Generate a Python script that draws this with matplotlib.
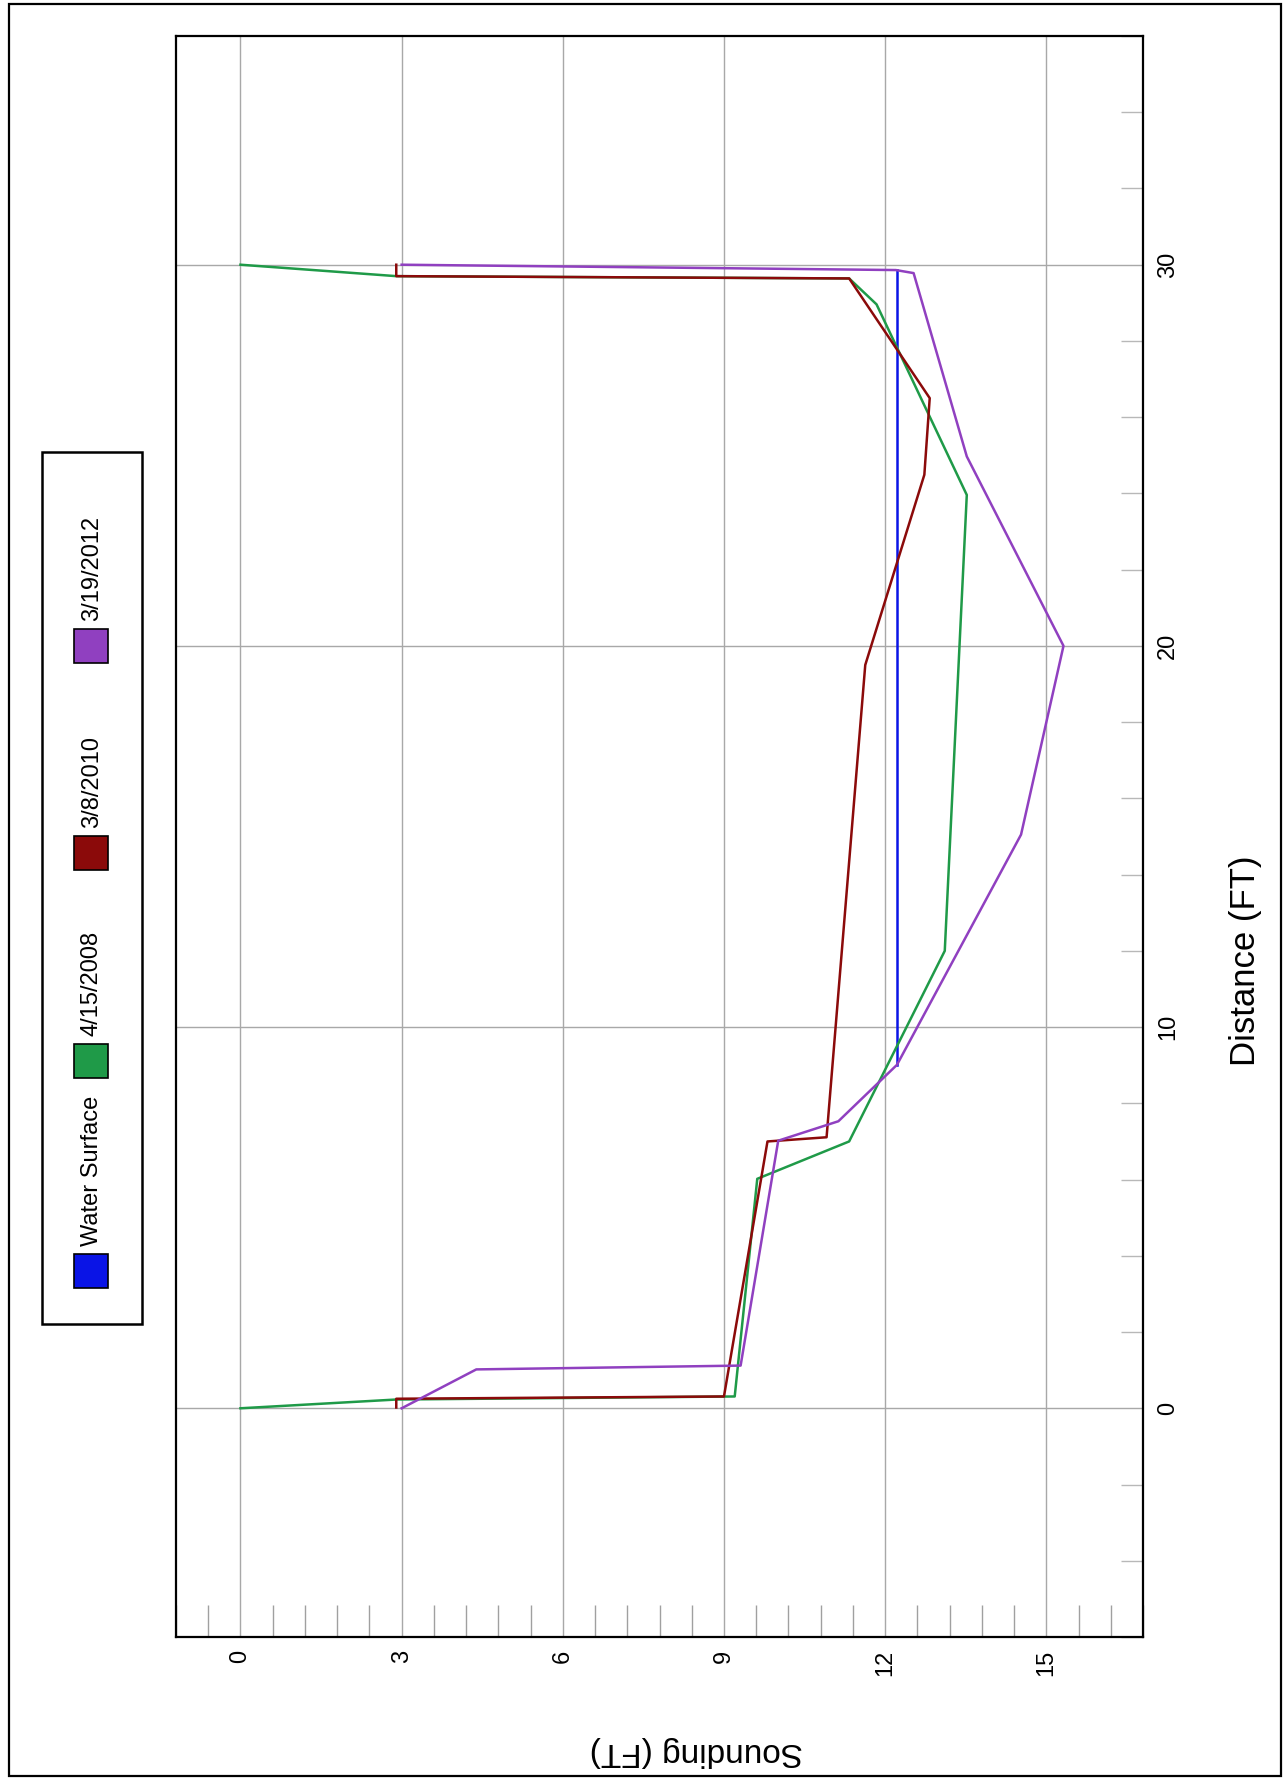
import matplotlib
matplotlib.use("Agg")
import matplotlib.pyplot as plt
from matplotlib.patches import Rectangle
from matplotlib.ticker import MultipleLocator, FixedLocator

# ---------------- data ----------------
series_names = ["Water Surface", "4/15/2008", "3/8/2010", "3/19/2012"]

ws_sounding = [12.22, 12.22]
ws_distance = [9.01, 29.87]

g2008_sounding = [0.0, 2.9, 9.2, 9.62, 11.33, 13.11, 13.52, 11.84, 11.33, 2.9, 0.0]
g2008_distance = [0.0, 0.23, 0.31, 6.02, 7.0, 12.0, 23.96, 28.96, 29.64, 29.7, 30.0]

r2010_sounding = [2.9, 2.9, 9.0, 9.81, 10.91, 11.63, 12.73, 12.83, 11.33, 2.9, 2.9]
r2010_distance = [0.02, 0.25, 0.31, 7.0, 7.11, 19.5, 24.49, 26.5, 29.64, 29.7, 30.0]

p2012_sounding = [3.0, 4.39, 9.31, 10.01, 11.13, 12.22, 14.53, 15.32, 13.52, 12.53, 12.2, 3.0]
p2012_distance = [0.0, 1.02, 1.12, 7.02, 7.53, 9.01, 15.05, 20.0, 24.97, 29.78, 29.86, 30.0]

sounding_ticks = [0, 3, 6, 9, 12, 15]
distance_ticks = [0, 10, 20, 30]

colors = ["#0a14e6", "#1f9a48", "#8b0a0a", "#9040c0"]

# ---------------- figure ----------------
W, H = 1288, 1782
fig = plt.figure(figsize=(W / 100, H / 100), dpi=100)
plt.rcParams["font.family"] = ["Liberation Sans", "DejaVu Sans"]

def fx(px):
    return px / W

def fy(py):
    return 1 - py / H

ax_l, ax_r, ax_t, ax_b = 176, 1143, 36, 1637
ax = fig.add_axes([fx(ax_l), fy(ax_b), fx(ax_r - ax_l), (ax_b - ax_t) / H])

ax.set_xlim(-1.2, 16.8)
ax.set_ylim(-6, 36)

ax.plot(ws_sounding, ws_distance, color=colors[0], lw=1.8, zorder=3)
ax.plot(g2008_sounding, g2008_distance, color=colors[1], lw=1.8, zorder=3)
ax.plot(r2010_sounding, r2010_distance, color=colors[2], lw=1.8, zorder=4)
ax.plot(p2012_sounding, p2012_distance, color=colors[3], lw=1.8, zorder=5)

# ticks / grid
ax.xaxis.set_major_locator(FixedLocator(sounding_ticks))
ax.xaxis.set_minor_locator(MultipleLocator(0.6))
ax.yaxis.set_major_locator(FixedLocator(distance_ticks))
ax.yaxis.set_minor_locator(MultipleLocator(2))
ax.yaxis.tick_right()

ax.grid(True, which="major", color="#a8a8a8", lw=1.0, zorder=1)
ax.tick_params(axis="both", which="major", length=0)
ax.tick_params(axis="x", which="major", labelsize=17, pad=9, labelrotation=90)
ax.tick_params(axis="y", which="major", labelsize=17, pad=10, labelrotation=90)
ax.tick_params(axis="x", which="minor", direction="in", length=23, color="#a0a0a0", width=1.0, bottom=True, top=False)
ax.tick_params(axis="y", which="minor", direction="in", length=16, color="#b8b8b8", width=1.0, right=True, left=False)
for lab in ax.get_yticklabels():
    lab.set_va("center")

for s in ax.spines.values():
    s.set_color("black")
    s.set_linewidth(1.6)

# axis labels (rotated as in reference)
fig.text(fx(1245), fy(961), "Distance (FT)", rotation=90, ha="center", va="center", fontsize=25)
fig.text(fx(696), fy(1751), "Sounding (FT)", rotation=180, ha="center", va="center", fontsize=24)

# legend (drawn manually, rotated)
fig.patches.append(Rectangle((fx(42), fy(1324)), fx(142 - 42), (1324 - 452) / H,
                             transform=fig.transFigure, fill=False, ec="black", lw=1.8))
patch_tops = [1254, 1044, 836, 629]
for name, col, pt in zip(series_names, colors, patch_tops):
    fig.patches.append(Rectangle((fx(74), fy(pt + 34)), fx(34), 34 / H,
                                 transform=fig.transFigure, fc=col, ec="black", lw=1.2))
    fig.text(fx(92), fy(pt - 8), name, rotation=90, ha="center", va="bottom",
             fontsize=17, family=["Liberation Sans Narrow", "Liberation Sans", "DejaVu Sans"])

# outer frame
fig.patches.append(Rectangle((fx(9), fy(1776)), fx(1281 - 9), (1776 - 4) / H,
                             transform=fig.transFigure, fill=False, ec="black", lw=1.6))

fig.savefig("out.png", dpi=100)
